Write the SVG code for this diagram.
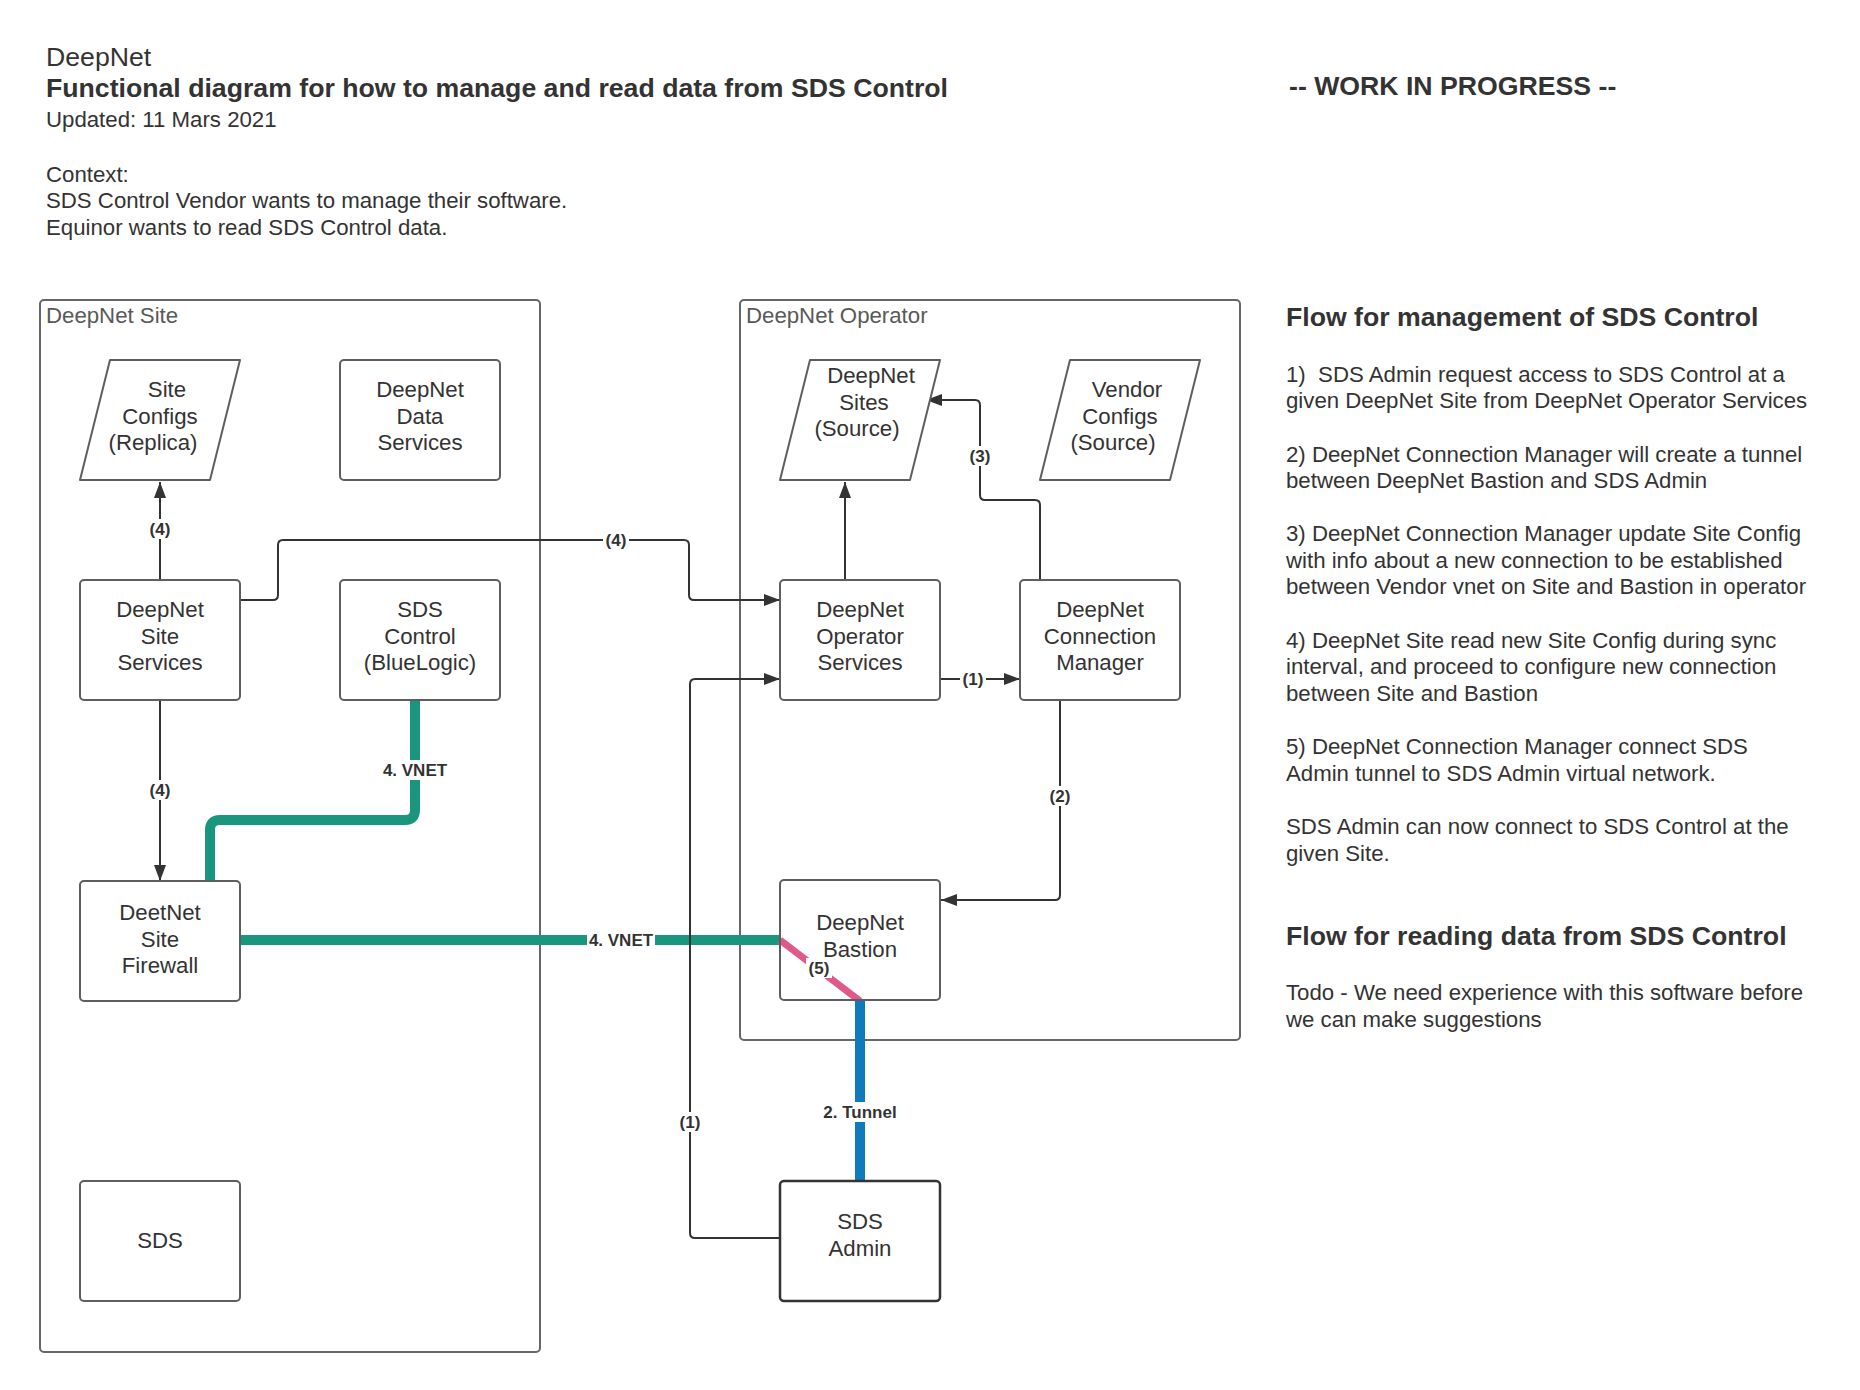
<svg xmlns="http://www.w3.org/2000/svg" width="1860" height="1390" viewBox="0 0 1860 1390">
<defs>
<marker id="arr" markerUnits="userSpaceOnUse" markerWidth="16" markerHeight="12" refX="16" refY="6" orient="auto">
<path d="M0,0 L16,6 L0,12 z" fill="#333333"/>
</marker>
<style>
.bg{fill:#ffffff}
.cont{fill:none;stroke:#666666;stroke-width:2}
.shape{fill:#ffffff;stroke:#5e5e5e;stroke-width:2}
.dark{fill:#ffffff;stroke:#333333;stroke-width:2.5}
.t{font-family:"Liberation Sans",Arial,sans-serif;font-size:22.22px;fill:#333333;text-anchor:middle}
.cl{font-family:"Liberation Sans",Arial,sans-serif;font-size:22.22px;fill:#595959}
.h{font-family:"Liberation Sans",Arial,sans-serif;font-size:26.67px;fill:#333333}
.hb{font-family:"Liberation Sans",Arial,sans-serif;font-size:26.67px;font-weight:bold;fill:#333333}
.p{font-family:"Liberation Sans",Arial,sans-serif;font-size:22.22px;fill:#333333}
.lbl{font-family:"Liberation Sans",Arial,sans-serif;font-size:17px;font-weight:bold;fill:#333333;text-anchor:middle}
.ln{fill:none;stroke:#333333;stroke-width:2}
.green{fill:none;stroke:#19967d;stroke-width:10;stroke-linejoin:round}
.pink{fill:none;stroke:#df5a88;stroke-width:7}
.blue{fill:none;stroke:#0f7bbd;stroke-width:10}
</style>
</defs>
<rect class="bg" x="0" y="0" width="1860" height="1390"/>

<g id="header">
<text class="h" x="46" y="66">DeepNet</text>
<text class="hb" x="46" y="97">Functional diagram for how to manage and read data from SDS Control</text>
<text class="p" x="46" y="126.5">Updated: 11 Mars 2021</text>
<text class="p" x="46" y="181.5">Context:</text>
<text class="p" x="46" y="208">SDS Control Vendor wants to manage their software.</text>
<text class="p" x="46" y="234.5">Equinor wants to read SDS Control data.</text>
<text class="hb" x="1289" y="95">-- WORK IN PROGRESS --</text>
</g>

<g id="notes">
<text class="hb" x="1286" y="326">Flow for management of SDS Control</text>
<text class="p" x="1286" y="381.7" style="white-space:pre">1)  SDS Admin request access to SDS Control at a</text>
<text class="p" x="1286" y="408.3">given DeepNet Site from DeepNet Operator Services</text>
<text class="p" x="1286" y="461.7">2) DeepNet Connection Manager will create a tunnel</text>
<text class="p" x="1286" y="488.3">between DeepNet Bastion and SDS Admin</text>
<text class="p" x="1286" y="541">3) DeepNet Connection Manager update Site Config</text>
<text class="p" x="1286" y="567.7">with info about a new connection to be established</text>
<text class="p" x="1286" y="594.3">between Vendor vnet on Site and Bastion in operator</text>
<text class="p" x="1286" y="647.7">4) DeepNet Site read new Site Config during sync</text>
<text class="p" x="1286" y="674.3">interval, and proceed to configure new connection</text>
<text class="p" x="1286" y="701">between Site and Bastion</text>
<text class="p" x="1286" y="754.3">5) DeepNet Connection Manager connect SDS</text>
<text class="p" x="1286" y="781">Admin tunnel to SDS Admin virtual network.</text>
<text class="p" x="1286" y="834.3">SDS Admin can now connect to SDS Control at the</text>
<text class="p" x="1286" y="861">given Site.</text>
<text class="hb" x="1286" y="945">Flow for reading data from SDS Control</text>
<text class="p" x="1286" y="1000">Todo - We need experience with this software before</text>
<text class="p" x="1286" y="1026.7">we can make suggestions</text>
</g>

<g id="site-container">
<rect class="cont" x="40" y="300" width="500" height="1052" rx="4"/>
<text class="cl" x="46" y="323">DeepNet Site</text>
</g>
<g id="operator-container">
<rect class="cont" x="740" y="300" width="500" height="740" rx="4"/>
<text class="cl" x="746" y="323">DeepNet Operator</text>
</g>

<g id="connectors">
<path class="green" d="M415,700 V810 Q415,820 405,820 H220 Q210,820 210,830 V881"/>
<path class="green" d="M240,940 H780"/>
<path class="pink" d="M780,940 L860,1001"/>
<path class="blue" d="M860,1001 V1181"/>
<path class="ln" marker-end="url(#arr)" d="M160,580 V482"/>
<path class="ln" marker-end="url(#arr)" d="M160,700 V881"/>
<path class="ln" marker-end="url(#arr)" d="M240,600 H273 Q278,600 278,595 V545 Q278,540 283,540 H684 Q689,540 689,545 V595 Q689,600 694,600 H780"/>
<path class="ln" marker-end="url(#arr)" d="M845,580 V482"/>
<path class="ln" marker-end="url(#arr)" d="M940,679 H1020"/>
<path class="ln" marker-end="url(#arr)" d="M1040,580 V505 Q1040,500 1035,500 H985 Q980,500 980,495 V405 Q980,400 975,400 H926"/>
<path class="ln" marker-end="url(#arr)" d="M1060,700 V895 Q1060,900 1055,900 H941"/>
<path class="ln" marker-end="url(#arr)" d="M780,1238 H695 Q690,1238 690,1233 V684 Q690,679 695,679 H780"/>
<rect class="bg" x="147" y="519" width="26" height="20"/>
<text class="lbl" x="160" y="534.5">(4)</text>
<rect class="bg" x="147" y="780" width="26" height="20"/>
<text class="lbl" x="160" y="795.5">(4)</text>
<rect class="bg" x="603" y="530" width="26" height="20"/>
<text class="lbl" x="616" y="546">(4)</text>
<rect class="bg" x="960" y="669" width="26" height="20"/>
<text class="lbl" x="973" y="685">(1)</text>
<rect class="bg" x="967" y="446" width="26" height="20"/>
<text class="lbl" x="980" y="462">(3)</text>
<rect class="bg" x="1047" y="786" width="26" height="20"/>
<text class="lbl" x="1060" y="802">(2)</text>
<rect class="bg" x="677" y="1112" width="26" height="20"/>
<text class="lbl" x="690" y="1128">(1)</text>
<rect class="bg" x="381" y="760" width="68" height="20"/>
<text class="lbl" x="415" y="776">4. VNET</text>
<rect class="bg" x="587" y="930" width="68" height="20"/>
<text class="lbl" x="621" y="946">4. VNET</text>
<rect class="bg" x="806" y="958" width="26" height="20"/>
<text class="lbl" x="819" y="974">(5)</text>
<rect class="bg" x="819" y="1102" width="82" height="20"/>
<text class="lbl" x="860" y="1118">2. Tunnel</text>
</g>

<g id="site-configs">
<path class="shape" d="M110,360 H240 L210,480 H80 Z" stroke-linejoin="round"/>
<text class="t" x="167" y="397">Site</text>
<text class="t" x="160" y="423.5">Configs</text>
<text class="t" x="153" y="450">(Replica)</text>
</g>
<g id="data-services">
<rect class="shape" x="340" y="360" width="160" height="120" rx="4"/>
<text class="t" x="420" y="397">DeepNet</text>
<text class="t" x="420" y="423.5">Data</text>
<text class="t" x="420" y="450">Services</text>
</g>
<g id="site-services">
<rect class="shape" x="80" y="580" width="160" height="120" rx="4"/>
<text class="t" x="160" y="617">DeepNet</text>
<text class="t" x="160" y="643.5">Site</text>
<text class="t" x="160" y="670">Services</text>
</g>
<g id="sds-control">
<rect class="shape" x="340" y="580" width="160" height="120" rx="4"/>
<text class="t" x="420" y="617">SDS</text>
<text class="t" x="420" y="643.5">Control</text>
<text class="t" x="420" y="670">(BlueLogic)</text>
</g>
<g id="site-firewall">
<rect class="shape" x="80" y="881" width="160" height="120" rx="4"/>
<text class="t" x="160" y="920">DeetNet</text>
<text class="t" x="160" y="946.5">Site</text>
<text class="t" x="160" y="973">Firewall</text>
</g>
<g id="sds">
<rect class="shape" x="80" y="1181" width="160" height="120" rx="4"/>
<text class="t" x="160" y="1248">SDS</text>
</g>
<g id="deepnet-sites">
<path class="shape" d="M810,360 H940 L910,480 H780 Z" stroke-linejoin="round"/>
<text class="t" x="871" y="383">DeepNet</text>
<text class="t" x="864" y="409.5">Sites</text>
<text class="t" x="857" y="436">(Source)</text>
</g>
<g id="vendor-configs">
<path class="shape" d="M1070,360 H1200 L1170,480 H1040 Z" stroke-linejoin="round"/>
<text class="t" x="1127" y="397">Vendor</text>
<text class="t" x="1120" y="423.5">Configs</text>
<text class="t" x="1113" y="450">(Source)</text>
</g>
<g id="operator-services">
<rect class="shape" x="780" y="580" width="160" height="120" rx="4"/>
<text class="t" x="860" y="617">DeepNet</text>
<text class="t" x="860" y="643.5">Operator</text>
<text class="t" x="860" y="670">Services</text>
</g>
<g id="connection-manager">
<rect class="shape" x="1020" y="580" width="160" height="120" rx="4"/>
<text class="t" x="1100" y="617">DeepNet</text>
<text class="t" x="1100" y="643.5">Connection</text>
<text class="t" x="1100" y="670">Manager</text>
</g>
<g id="bastion">
<rect class="shape" x="780" y="880" width="160" height="120" rx="4" fill-opacity="0"/>
<text class="t" x="860" y="930">DeepNet</text>
<text class="t" x="860" y="957">Bastion</text>
</g>
<g id="sds-admin">
<rect class="dark" x="780" y="1181" width="160" height="120" rx="4"/>
<text class="t" x="860" y="1229">SDS</text>
<text class="t" x="860" y="1256">Admin</text>
</g>
</svg>
